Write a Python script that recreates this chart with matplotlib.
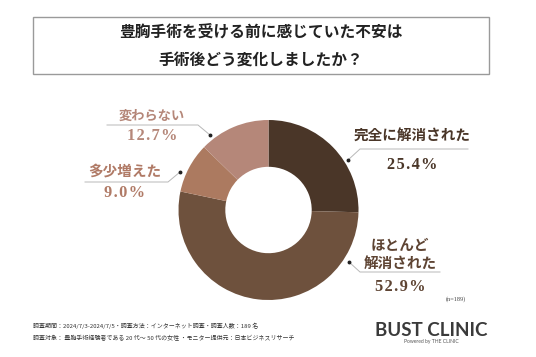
import matplotlib.pyplot as plt

plt.rcParams['font.family'] = ['Noto Sans CJK JP', 'DejaVu Sans']

labels = ["完全に解消された", "ほとんど\n解消された", "多少増えた", "変わらない"]
values = [25.4, 52.9, 9.0, 12.7]
colors = ["#4a3628", "#6e513d", "#ac7a60", "#b58779"]
label_colors = ["#4a3628", "#5e4433", "#b07a66", "#b58779"]

title = "豊胸手術を受ける前に感じていた不安は\n手術後どう変化しましたか？"
note_n = "(n=189)"
footer1 = "調査期間：2024/7/3-2024/7/5・調査方法：インターネット調査・調査人数：189 名"
footer2 = "調査対象： 豊胸手術経験者である 20 代～ 50 代の女性 ・モニター提供元：日本ビジネスリサーチ"

W, H = 536, 357
fig = plt.figure(figsize=(W / 100, H / 100), dpi=100)

# donut, centre (268.5, 210) px, radius 90 px
cx, cy, r = 268.5, 210, 90
ax = fig.add_axes([(cx - 100) / W, (H - cy - 100) / H, 200 / W, 200 / H])
ax.pie(values, colors=colors, startangle=90, counterclock=False, radius=0.9,
       wedgeprops=dict(width=0.9 * 0.52, linewidth=0))
ax.set_xlim(-1, 1)
ax.set_ylim(-1, 1)
ax.axis("off")

# overlay in pixel coords
ov = fig.add_axes([0, 0, 1, 1])
ov.set_xlim(0, W)
ov.set_ylim(H, 0)
ov.axis("off")

# title box
ov.add_patch(plt.Rectangle((33, 17), 456, 57, fill=False, edgecolor="#9a9a9a", lw=1))
ov.text(261, 46, title, ha="center", va="center", fontsize=11.3, fontweight="bold",
        color="#222222", linespacing=2.0)

# label layout: (text x, text y, percent y, dot, elbow, line end)
layout = [
    (412, 136, 165, (348, 160), (360, 149), 468),
    (400, 254, 287, (349, 262), (360, 272), 440),
    (125, 171, 193, (180, 172), (168, 182), 85),
    (152, 116, 136, (210, 135), (198, 125), 107),
]
sizes = [10.5, 10.5, 10.5, 9.5]
for lab, val, col, lay, fs in zip(labels, values, label_colors, layout, sizes):
    tx, ty, py, dot, elbow, lend = lay
    ov.text(tx, ty, lab, ha="center", va="center", fontsize=fs, fontweight="bold",
            color=col, linespacing=1.2)
    pct = "\u200a".join(f"{val:.1f}%")
    ov.text(tx, py, pct, ha="center", va="center", fontsize=11.8,
            fontweight="bold", color=col, family=["Liberation Serif", "DejaVu Serif"])
    ov.plot([dot[0], elbow[0], lend], [dot[1], elbow[1], elbow[1]], color="#b8b8b8", lw=0.7)
    ov.plot(dot[0], dot[1], "o", color="#222222", ms=1.8)

ov.text(456, 299, note_n, ha="center", va="center", fontsize=4.5, color="#444444",
        family=["Liberation Serif"])

ov.text(33, 326, footer1, ha="left", va="center", fontsize=4.3, color="#333333")
ov.text(33, 338, footer2, ha="left", va="center", fontsize=4.3, color="#333333")

ov.text(431, 330, "BUST CLINIC", ha="center", va="center", fontsize=13.5,
        fontweight="bold", color="#3a3a3a", family=["Lato"])
ov.text(431, 342, "Powered by THE CLINIC", ha="center", va="center", fontsize=3.6,
        color="#555555", family=["Lato"])

fig.savefig("out.png", dpi=100, facecolor="white")
